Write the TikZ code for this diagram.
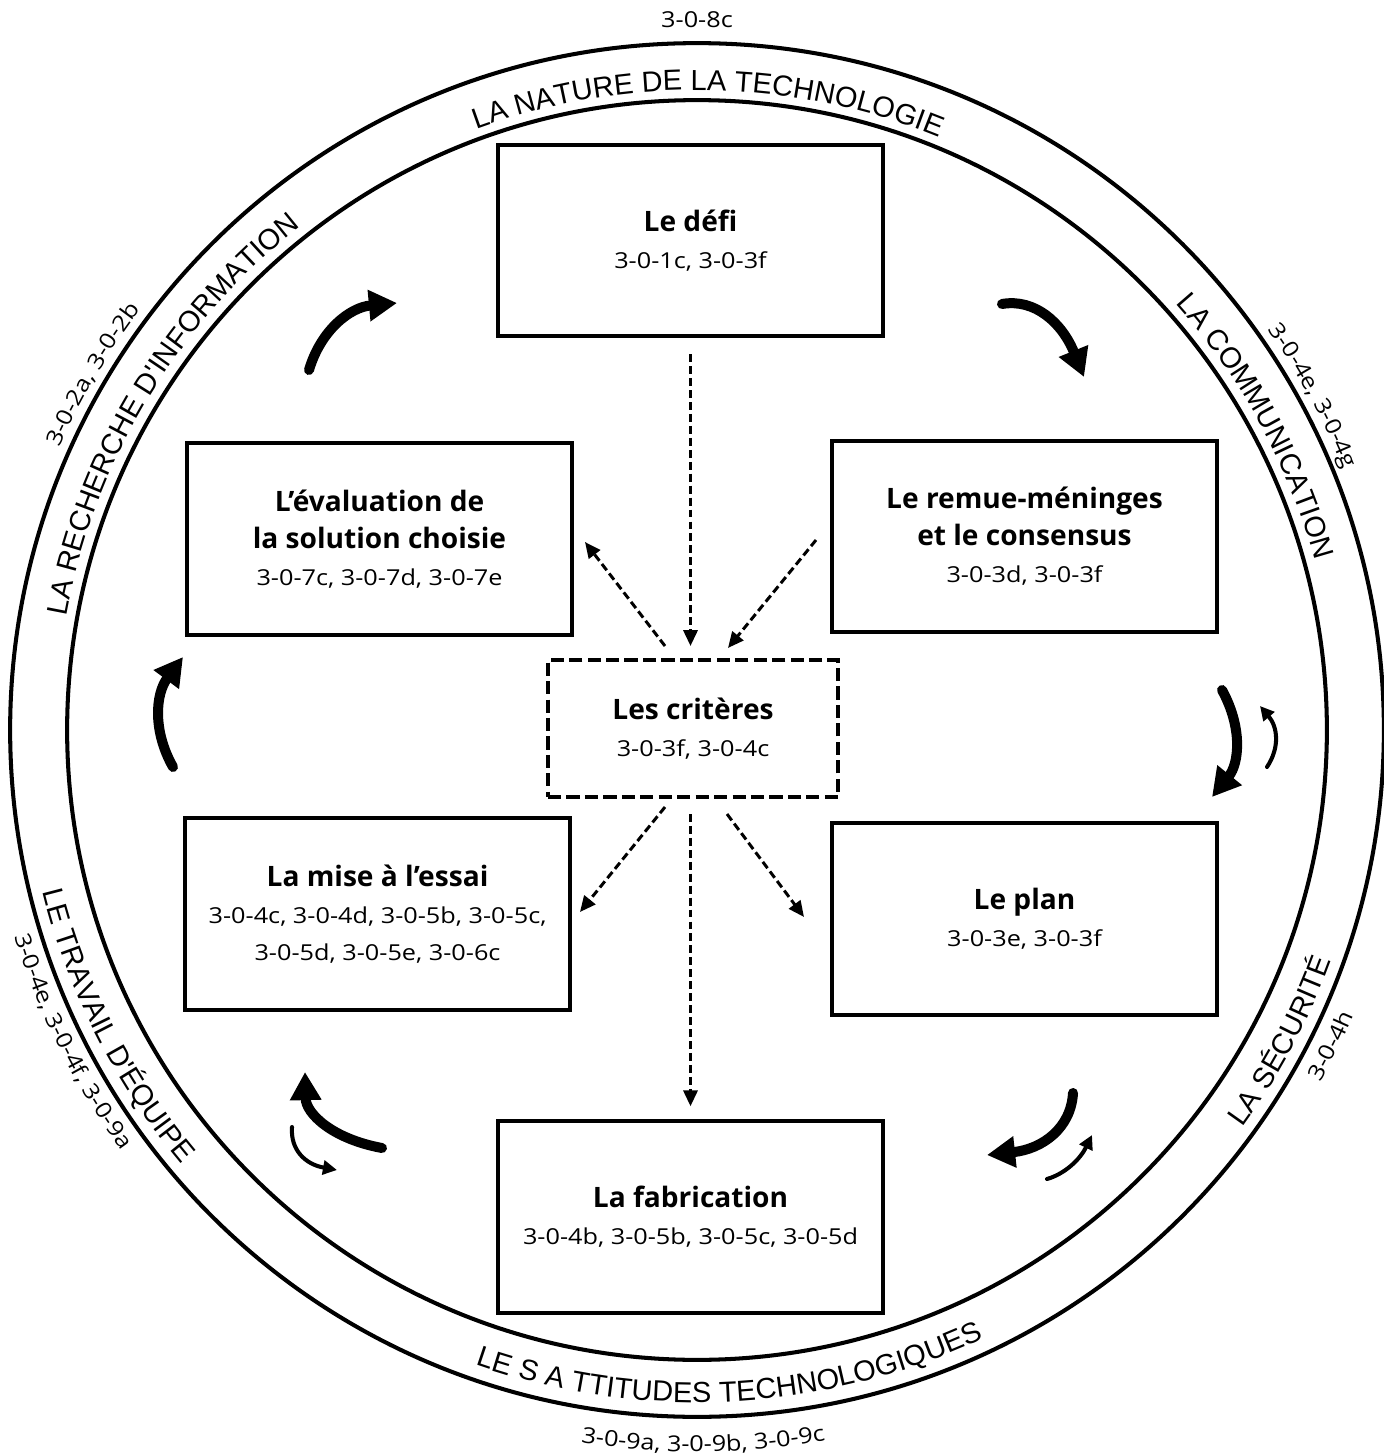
\documentclass[tikz,border=0pt]{standalone}
\usepackage{fontspec}
\setmainfont{Open Sans}
\newfontfamily\numf[FakeStretch=1.15]{Open Sans}
\newfontfamily\arcf{Liberation Sans}
\usetikzlibrary{arrows.meta,decorations.text,calc}
\newcommand\ttl{\normalfont\bfseries\fontsize{16}{21}\selectfont}
\newcommand\nmf{\numf\fontsize{12.5}{21}\selectfont}
\newcommand\arcfont{\arcf\fontsize{16.5}{16}\selectfont}
\begin{document}
\begin{tikzpicture}[x=0.02cm,y=0.02cm,
  box/.style={draw, line width=2.3pt, inner sep=0pt, align=center,
    minimum width=7.7cm, minimum height=3.83cm, font=\nmf},
  critbox/.style={draw, line width=2.3pt, dash pattern=on 7.5pt off 3pt,
    inner sep=0pt, align=center, minimum width=5.8cm, minimum height=2.74cm, font=\nmf},
  dar/.style={line width=1.7pt, dash pattern=on 4.5pt off 2.3pt,
    -{Triangle[length=9pt,width=8pt]}},
  tarr/.style={line width=5.7pt, line cap=round, -{Triangle[length=16pt,width=17pt]}},
  tharr/.style={line width=2.3pt, line cap=round, -{Triangle[length=8pt,width=8pt]}},
  ring/.style={line width=2.3pt}
]
\useasboundingbox (0,0) rectangle (1383,-1456);
\coordinate (O) at (697,-730);
% rings
\draw[ring] (O) circle[radius=13.74cm];
\draw[ring] (O) circle[radius=12.6cm];

% ring texts (inside band)
\path[decorate, decoration={text along path, text align=center,
  text={|\arcfont|LA NATURE DE LA TECHNOLOGIE}}]
  ($(O)+(129:12.8cm)$) arc[start angle=129, end angle=49, radius=12.8cm];
\path[decorate, decoration={text along path, text align=center,
  text={|\arcfont|LA RECHERCHE D'INFORMATION}}]
  ($(O)+(192:12.82cm)$) arc[start angle=192, end angle=106, radius=12.82cm];
\path[decorate, decoration={text along path, text align=center,
  text={|\arcfont|LA COMMUNICATION}}]
  ($(O)+(60:12.82cm)$) arc[start angle=60, end angle=-3, radius=12.82cm];
\path[decorate, decoration={text along path, text align=center,
  text={|\arcfont|LA SÉCURITÉ}}]
  ($(O)+(-48:13.5cm)$) arc[start angle=-48, end angle=-8, radius=13.5cm];
\path[decorate, decoration={text along path, text align=center,
  text={|\arcfont|LE S A TTITUDES TECHNOLOGIQUES}}]
  ($(O)+(-122:13.45cm)$) arc[start angle=-122, end angle=-52, radius=13.45cm];
\path[decorate, decoration={text along path, text align=center,
  text={|\arcfont|LE TRAVAIL D'ÉQUIPE}}]
  ($(O)+(182:13.48cm)$) arc[start angle=182, end angle=232, radius=13.48cm];

% outer labels
\node[font=\nmf] (l8c) at (697,-20) {3-0-8c};
\path[decorate, decoration={text along path, text align=center,
  text={|\nmf|3-0-2a, 3-0-2b}}]
  ($(O)+(170:13.95cm)$) arc[start angle=170, end angle=129, radius=13.95cm];
\path[decorate, decoration={text along path, text align=center,
  text={|\nmf|3-0-4e, 3-0-4g}}]
  ($(O)+(49:13.95cm)$) arc[start angle=49, end angle=8, radius=13.95cm];
\path[decorate, decoration={text along path, text align=center,
  text={|\nmf|3-0-4e, 3-0-4f, 3-0-9a}}]
  ($(O)+(181:14.26cm)$) arc[start angle=181, end angle=232, radius=14.26cm];
\path[decorate, decoration={text along path, text align=center,
  text={|\nmf|3-0-4h}}]
  ($(O)+(-44:14.32cm)$) arc[start angle=-44, end angle=-9, radius=14.32cm];
\path[decorate, decoration={text along path, text align=center,
  text={|\nmf|3-0-9a, 3-0-9b, 3-0-9c}}]
  ($(O)+(-110:14.44cm)$) arc[start angle=-110, end angle=-69, radius=14.44cm];

% boxes
\node[box] (defi) at (690.5,-240.5) {{\ttl Le défi}\\3-0-1c, 3-0-3f};
\node[box] (eval) at (379.5,-539) {{\ttl L’évaluation de}\\{\ttl la solution choisie}\\3-0-7c, 3-0-7d, 3-0-7e};
\node[box] (remue) at (1024.5,-536.5) {{\ttl Le remue-méninges}\\{\ttl et le consensus}\\3-0-3d, 3-0-3f};
\node[critbox] (crit) at (693,-728.5) {{\ttl Les critères}\\3-0-3f, 3-0-4c};
\node[box] (mise) at (377.5,-914) {{\ttl La mise à l’essai}\\3-0-4c, 3-0-4d, 3-0-5b, 3-0-5c,\\3-0-5d, 3-0-5e, 3-0-6c};
\node[box] (plan) at (1024.5,-919) {{\ttl Le plan}\\3-0-3e, 3-0-3f};
\node[box] (fab) at (690.5,-1217) {{\ttl La fabrication}\\3-0-4b, 3-0-5b, 3-0-5c, 3-0-5d};

% dashed connectors
\draw[dar, shorten <=0.32cm, shorten >=0.24cm] (defi.south) -- (defi.south |- crit.north);
\draw[dar] ($(remue.west)+(-14,-3.5)$) -- ($(crit.north)+(35,10)$);
\draw[dar] ($(crit.north)+(-28,12)$) -- ($(eval.east)+(11,-3)$);
\draw[dar] ($(crit.south)+(-28,-8)$) -- ($(mise.east)+(8,2)$);
\draw[dar] ($(crit.south)+(34,-15)$) -- ($(plan.west)+(-26,2)$);
\draw[dar, shorten <=0.3cm, shorten >=0.26cm] (fab.north |- crit.south) -- (fab.north);

% cycle arrows
\draw[tarr] (309,-370) .. controls (321,-329.7) and (350.3,-307.3) .. (397,-303);
\draw[tarr] (1002,-304) .. controls (1034.7,-298.3) and (1062,-322.7) .. (1084,-377);
\draw[tarr] (173,-767) .. controls (152.3,-730.3) and (155.7,-693.7) .. (183,-657);
\draw[tarr] (1222,-690) .. controls (1242.7,-727.7) and (1239.3,-763.3) .. (1212,-797);
\draw[tharr] (1267,-767) .. controls (1280,-747.3) and (1277.7,-727) .. (1260,-706);
\draw[tarr] (1073,-1093) .. controls (1071,-1128.3) and (1042.3,-1149) .. (987,-1155);
\draw[tharr] (1047,-1179) .. controls (1065.3,-1173.7) and (1080.3,-1159) .. (1092,-1135);
\draw[tarr] (382,-1148) .. controls (331.7,-1138.7) and (306,-1113.3) .. (305,-1072);
\draw[tharr] (292,-1127) .. controls (290.3,-1150) and (305.3,-1164.3) .. (337,-1170);
\end{tikzpicture}
\end{document}
